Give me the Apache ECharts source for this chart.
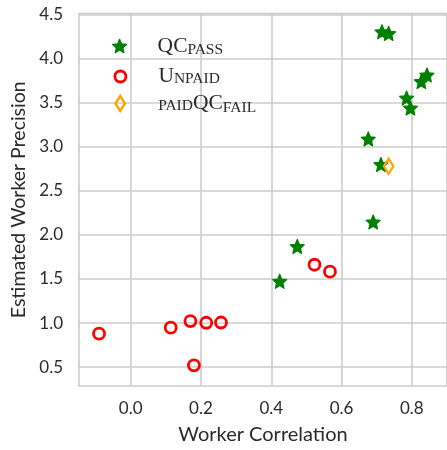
<!DOCTYPE html>
<html>
<head>
<meta charset="utf-8">
<script src="https://cdn.jsdelivr.net/npm/echarts@6/dist/echarts.min.js"></script>
<style>
  html, body { margin: 0; padding: 0; background: #ffffff; }
  #chart { width: 447px; height: 450px; }
</style>
</head>
<body>
<div id="chart"></div>
<script>
// Worker correlation vs. estimated worker precision, three worker groups.
const qcPassX = [0.424, 0.474, 0.690, 0.676, 0.712, 0.715, 0.734, 0.827, 0.843, 0.785, 0.796];
const qcPassY = [1.474, 1.870, 2.148, 3.091, 2.800, 4.307, 4.289, 3.742, 3.818, 3.555, 3.441];

const unpaidX = [-0.090, 0.114, 0.170, 0.215, 0.257, 0.180, 0.523, 0.567];
const unpaidY = [0.879, 0.947, 1.022, 1.003, 1.006, 0.520, 1.662, 1.583];

const paidQcFailX = [0.734];
const paidQcFailY = [2.781];

const xTicks = [0.0, 0.2, 0.4, 0.6, 0.8];
const yTicks = [0.5, 1.0, 1.5, 2.0, 2.5, 3.0, 3.5, 4.0, 4.5];

const xTitle = 'Worker Correlation';
const yTitle = 'Estimated Worker Precision';

function pairs(xs, ys) {
  return xs.map((x, i) => [x, ys[i]]);
}

// Five-pointed star outline as an SVG path
function starPath(points, inner) {
  let d = '';
  for (let i = 0; i < points * 2; i++) {
    const r = i % 2 === 0 ? 50 : 50 * inner;
    const a = -Math.PI / 2 + i * Math.PI / points;
    const x = (50 + r * Math.cos(a)).toFixed(2);
    const y = (50 + r * Math.sin(a)).toFixed(2);
    d += (i === 0 ? 'M' : 'L') + x + ' ' + y + ' ';
  }
  return 'path://' + d + 'Z';
}

const STAR = starPath(5, 0.46);
const GREEN = '#008000';
const RED = '#ff0000';
const ORANGE = '#ffa500';
const CLEAR = 'rgba(255,255,255,0)';
const GRID = '#cccccc';
const INK = '#2a2a2a';
const SANS = 'Lato, "Open Sans", sans-serif';
const SERIF = '"Liberation Serif", "DejaVu Serif", serif';

const legendRich = {
  m: { fontFamily: SERIF, fontSize: 21.5, color: INK },
  c: { fontFamily: SERIF, fontSize: 15.5, color: INK, padding: [4, 0, 0, 0] },
  s: { fontFamily: SERIF, fontSize: 15.5, color: INK, padding: [8, 0, 0, 0] }
};

const legendLabels = {
  'QC_PASS': '{m|QC}{s|PASS}',
  'UNPAID': '{m|U}{c|NPAID}',
  'PAID_QC_FAIL': '{c|PAID}{m|QC}{s|FAIL}'
};

const styles = {
  'QC_PASS': { color: GREEN, borderColor: GREEN, borderWidth: 1.2, borderJoin: 'round', opacity: 1 },
  'UNPAID': { color: CLEAR, borderColor: RED, borderWidth: 2.8, opacity: 1 },
  'PAID_QC_FAIL': { color: CLEAR, borderColor: ORANGE, borderWidth: 2.4, opacity: 1 }
};

// One legend block per entry so each icon keeps its own size
function legendEntry(name, w, h, cy) {
  const cx = 119;
  const left = cx - w / 2;
  const textStart = 157;
  return {
    data: [name],
    left: left,
    top: cy - h / 2,
    itemWidth: w,
    itemHeight: h,
    padding: 0,
    selectedMode: false,
    itemStyle: styles[name],
    formatter: (n) => legendLabels[n],
    textStyle: {
      padding: [0, 0, 0, textStart - (left + w + 5)],
      rich: legendRich
    }
  };
}

const chart = echarts.init(document.getElementById('chart'), null, { renderer: 'canvas' });

chart.setOption({
  animation: false,
  backgroundColor: '#ffffff',
  textStyle: { fontFamily: SANS },
  grid: {
    left: 79,
    top: 13.5,
    right: -7.6,
    bottom: 62.5,
    show: true,
    borderColor: GRID,
    borderWidth: 1.6,
    containLabel: false
  },
  legend: [
    legendEntry('QC_PASS', 14, 14, 42),
    legendEntry('UNPAID', 11, 11, 71),
    legendEntry('PAID_QC_FAIL', 9.5, 15, 100)
  ],
  xAxis: {
    type: 'value',
    min: -0.147,
    max: 0.9,
    name: xTitle,
    nameLocation: 'middle',
    nameGap: 39,
    nameTextStyle: { fontFamily: SANS, fontSize: 20, color: INK },
    axisLine: { show: false },
    axisTick: { show: false, customValues: xTicks },
    axisLabel: {
      customValues: xTicks,
      margin: 14,
      fontFamily: SANS,
      fontSize: 17,
      color: INK,
      formatter: (v) => v.toFixed(1)
    },
    splitLine: { show: true, lineStyle: { color: GRID, width: 1.6 } }
  },
  yAxis: {
    type: 'value',
    min: 0.285,
    max: 4.515,
    name: yTitle,
    nameLocation: 'middle',
    nameGap: 45,
    nameTextStyle: { fontFamily: SANS, fontSize: 19.5, color: INK },
    axisLine: { show: false },
    axisTick: { show: false, customValues: yTicks },
    axisLabel: {
      customValues: yTicks,
      margin: 16,
      fontFamily: SANS,
      fontSize: 17,
      color: INK,
      formatter: (v) => v.toFixed(1)
    },
    splitLine: { show: true, lineStyle: { color: GRID, width: 1.6 } }
  },
  series: [
    {
      name: 'QC_PASS',
      type: 'scatter',
      symbol: STAR,
      symbolSize: 14,
      data: pairs(qcPassX, qcPassY),
      itemStyle: styles['QC_PASS']
    },
    {
      name: 'UNPAID',
      type: 'scatter',
      symbol: 'circle',
      symbolSize: 11,
      data: pairs(unpaidX, unpaidY),
      itemStyle: styles['UNPAID']
    },
    {
      name: 'PAID_QC_FAIL',
      type: 'scatter',
      symbol: 'diamond',
      symbolSize: [9.5, 15],
      data: pairs(paidQcFailX, paidQcFailY),
      itemStyle: styles['PAID_QC_FAIL']
    }
  ]
});
</script>
</body>
</html>
